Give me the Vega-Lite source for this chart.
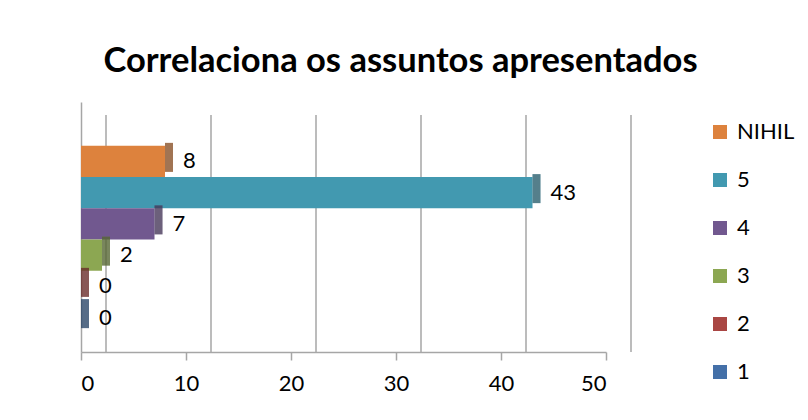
{
  "$schema": "https://vega.github.io/schema/vega-lite/v6.json",
  "autosize": {"type": "none"},
  "width": 525,
  "height": 250,
  "padding": {"left": 81, "top": 102, "right": 202, "bottom": 68},
  "background": "white",
  "title": {
    "text": "Correlaciona os assuntos apresentados",
    "font": "Lato",
    "fontSize": 34.5,
    "fontWeight": "bold",
    "color": "#000000",
    "anchor": "middle",
    "frame": "group",
    "dx": 57,
    "offset": 23
  },
  "config": {"view": {"stroke": null}},
  "data": {
    "values": [
      {"categoria": "NIHIL", "valor": 8},
      {"categoria": "5", "valor": 43},
      {"categoria": "4", "valor": 7},
      {"categoria": "3", "valor": 2},
      {"categoria": "2", "valor": 0},
      {"categoria": "1", "valor": 0}
    ]
  },
  "encoding": {
    "y": {
      "field": "categoria",
      "type": "nominal",
      "sort": ["NIHIL", "5", "4", "3", "2", "1"],
      "scale": {"paddingInner": 0, "paddingOuter": 1.24, "align": 0.7},
      "axis": {"labels": false, "ticks": false, "title": null, "domain": true, "domainColor": "#A6A6A6", "domainWidth": 1.5, "grid": false}
    },
    "x": {
      "field": "valor",
      "type": "quantitative",
      "scale": {"domain": [0, 50], "nice": false},
      "axis": {
        "values": [0, 10, 20, 30, 40, 50],
        "title": null,
        "grid": false,
        "labelFont": "Lato",
        "labelFontSize": 22,
        "labelColor": "#000000",
        "labelPadding": 13,
        "tickSize": 8,
        "tickColor": "#A6A6A6",
        "tickWidth": 1.5,
        "domainColor": "#A6A6A6",
        "domainWidth": 1.5
      }
    }
  },
  "layer": [
    {
      "data": {"values": [{"t": 0}, {"t": 10}, {"t": 20}, {"t": 30}, {"t": 40}, {"t": 50}]},
      "mark": {"type": "rule", "color": "#A6A6A6", "strokeWidth": 1.5, "xOffset": 25, "yOffset": 13, "y2Offset": -22},
      "encoding": {
        "x": {"field": "t", "type": "quantitative"},
        "y": null
      }
    },
    {
      "mark": {"type": "bar"},
      "encoding": {
        "color": {
          "field": "categoria",
          "type": "nominal",
          "scale": {
            "domain": ["NIHIL", "5", "4", "3", "2", "1"],
            "range": ["#DD823D", "#4299B0", "#71588F", "#8CA752", "#A94643", "#4470A8"]
          },
          "legend": {
            "orient": "none",
            "legendX": 628,
            "legendY": 19,
            "title": null,
            "symbolType": "square",
            "symbolSize": 196,
            "symbolStrokeWidth": 0,
            "labelFont": "Lato",
            "labelFontSize": 22,
            "labelColor": "#000000",
            "labelOffset": 6,
            "rowPadding": 26
          }
        }
      }
    },
    {
      "mark": {"type": "tick", "orient": "vertical", "thickness": 8, "size": 29, "xOffset": 4, "yOffset": -4},
      "encoding": {
        "color": {"field": "categoria", "type": "nominal", "legend": null}
      }
    },
    {
      "mark": {"type": "tick", "orient": "vertical", "thickness": 8, "size": 29, "xOffset": 4, "yOffset": -4, "color": "#000000", "opacity": 0.3},
      "encoding": {}
    },
    {
      "mark": {"type": "text", "align": "left", "baseline": "middle", "dx": 18, "font": "Lato", "fontSize": 22, "color": "#000000"},
      "encoding": {
        "text": {"field": "valor", "type": "quantitative"}
      }
    }
  ]
}
